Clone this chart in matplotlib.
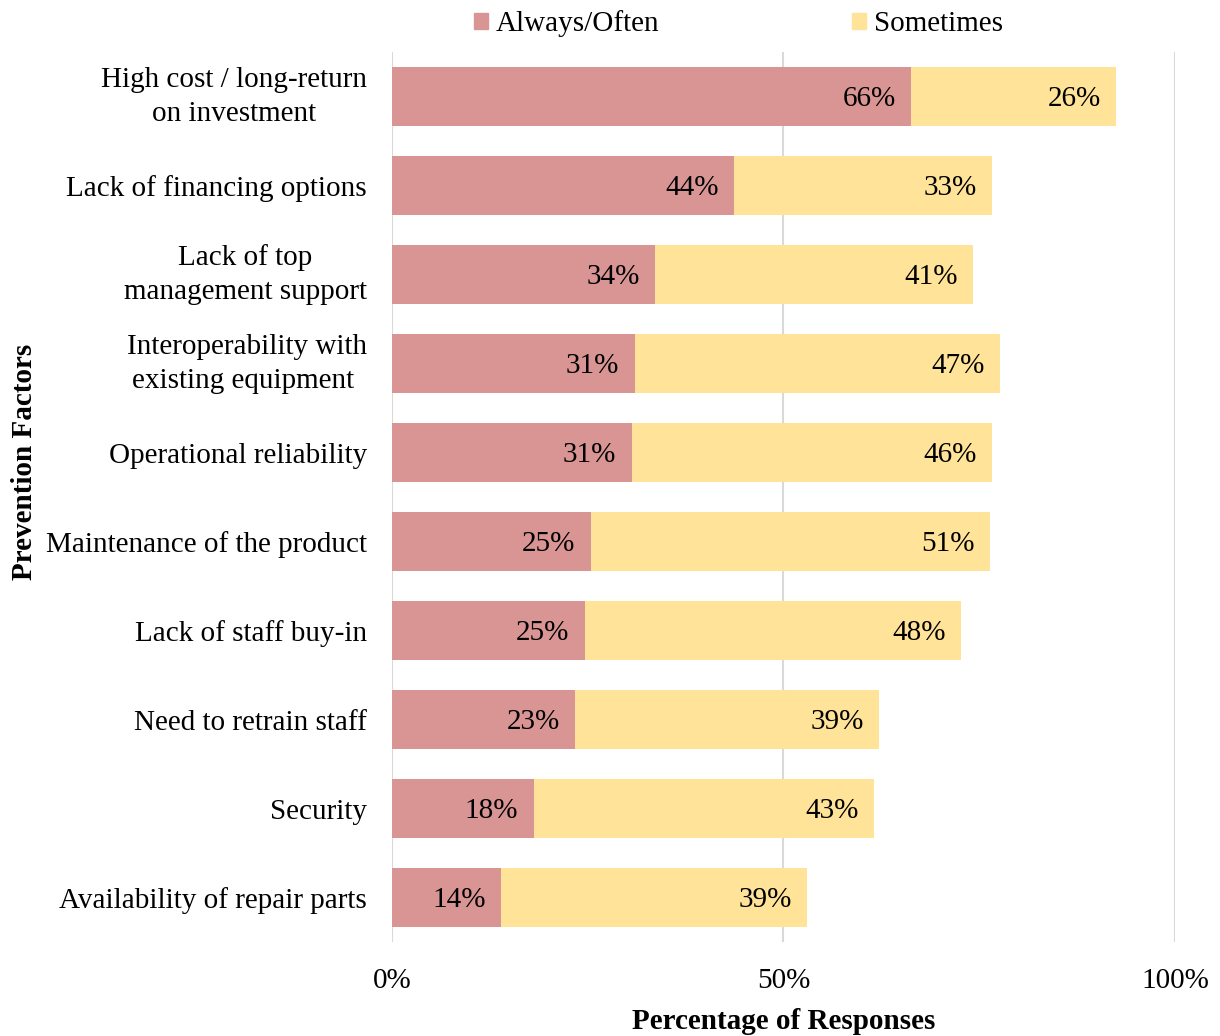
import matplotlib.pyplot as plt
from matplotlib.patches import Patch

plt.rcParams['font.family'] = ['Liberation Serif', 'DejaVu Serif']

factors = ["High cost / long-return\non investment", "Lack of financing options",
           "Lack of top\nmanagement support", "Interoperability with\nexisting equipment ",
           "Operational reliability", "Maintenance of the product", "Lack of staff buy-in",
           "Need to retrain staff", "Security", "Availability of repair parts"]
always_often = [66.3, 43.7, 33.6, 31.0, 30.6, 25.4, 24.6, 23.4, 18.1, 13.9]
sometimes = [26.2, 32.9, 40.6, 46.6, 46.0, 51.0, 48.1, 38.8, 43.4, 39.1]
x_ticks = [0, 50, 100]
x_tick_labels = ["0%", "50%", "100%"]

red = "#D99594"
yellow = "#FFE399"
fs = 21

fig = plt.figure(figsize=(12.2, 10.36), dpi=100)
ax = fig.add_axes([0.3213, 0.0907, 0.6418, 0.8591])

y = list(range(len(factors)))
ax.barh(y, always_often, height=0.67, color=red, zorder=2)
ax.barh(y, sometimes, left=always_often, height=0.67, color=yellow, zorder=2)

# labels sit just inside the end of each segment
for i in y:
    end1 = always_often[i]
    end2 = always_often[i] + sometimes[i]
    ax.annotate(f"{always_often[i]:.0f}%", (end1, i), xytext=(-11, -2), textcoords="offset points",
                ha="right", va="center", fontsize=fs)
    ax.annotate(f"{sometimes[i]:.0f}%", (end2, i), xytext=(-11, -2), textcoords="offset points",
                ha="right", va="center", fontsize=fs)

ax.set_xlim(0, 100)
ax.set_ylim(len(factors) - 0.5, -0.5)
ax.set_xticks(x_ticks)
ax.set_xticklabels(x_tick_labels, fontsize=fs)
ax.set_yticks(y)
ax.set_yticklabels(factors, fontsize=fs, multialignment="center", linespacing=1.4)
for lbl in ax.get_yticklabels():
    if "\n" in lbl.get_text():
        lbl.set_va("center")
ax.tick_params(length=0)
ax.tick_params(axis="x", pad=19)
ax.tick_params(axis="y", pad=18)
for s in ax.spines.values():
    s.set_visible(False)
ax.grid(axis="x", color="#D9D9D9", linewidth=1.5, zorder=0)

ax.set_xlabel("Percentage of Responses", fontsize=fs, fontweight="bold", labelpad=10)
fig.text(0.02, 0.554, "Prevention Factors", rotation=90, fontsize=fs, fontweight="bold",
         ha="center", va="center")

handles = [Patch(color=red), Patch(color=yellow)]
fig.legend(handles, ["Always/Often", "Sometimes"], loc="center", bbox_to_anchor=(0.605, 0.977),
           ncol=2, frameon=False, fontsize=fs, handlelength=0.5, handleheight=0.5,
           handletextpad=0.25, columnspacing=6.6)

fig.savefig("out.png", dpi=100)
